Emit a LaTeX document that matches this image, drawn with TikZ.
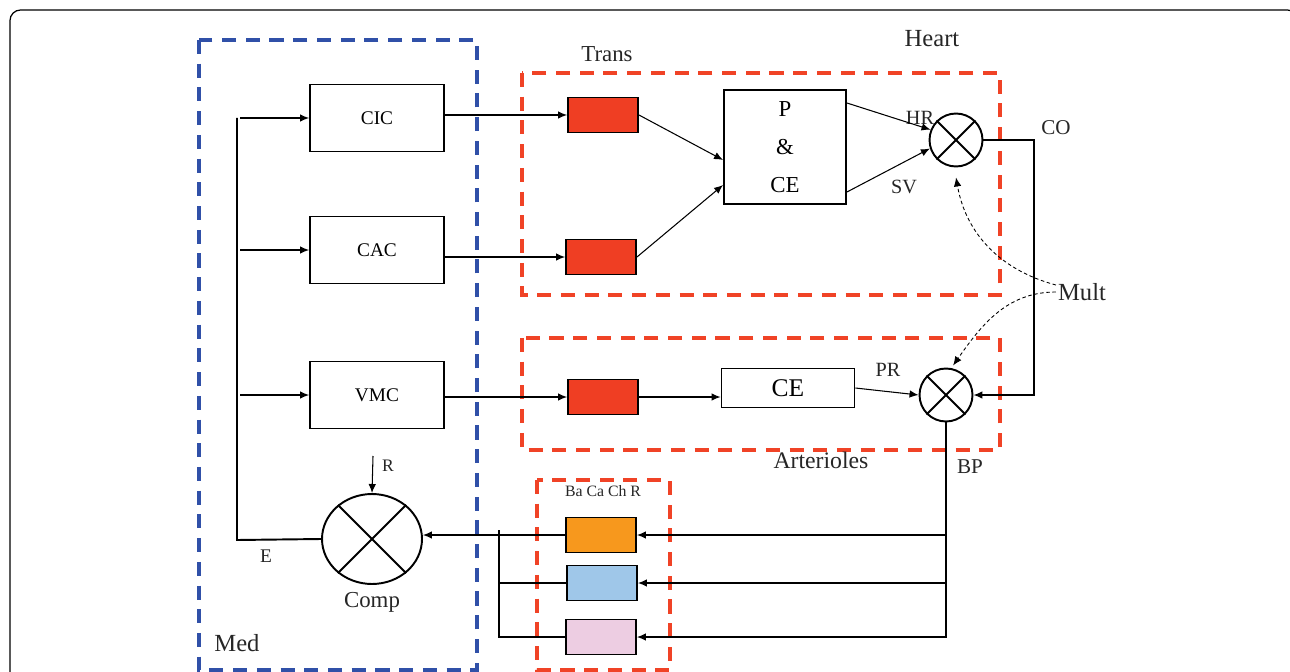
\documentclass[tikz,border=0pt]{standalone}
\usepackage{fontspec}
\setmainfont{Liberation Serif}
\usetikzlibrary{arrows.meta,positioning,shapes.geometric}
\definecolor{medblue}{HTML}{3050A8}
\definecolor{grpred}{HTML}{F04326}
\definecolor{transred}{HTML}{EF3E23}
\definecolor{barorange}{HTML}{F7981D}
\definecolor{chemblue}{HTML}{9FC7E9}
\definecolor{cardpink}{HTML}{EDCDE2}
\tikzset{
  ctrl/.style={draw, line width=1.1pt, minimum width=2.68cm, minimum height=1.34cm, font=\fontsize{11}{13}\selectfont},
  tbox/.style={draw, line width=1.1pt, minimum width=1.4cm, minimum height=0.7cm},
  plant/.style={draw, line width=1.1pt, align=center, minimum width=2.44cm, minimum height=2.28cm, font=\fontsize{13}{21.5}\selectfont},
  mult/.style={draw, line width=1.1pt, circle, minimum size=1.06cm, inner sep=0pt},
  arr/.style={-{Latex[length=1.8mm, width=1.5mm]}, line width=0.6pt},
  wire/.style={line width=1.1pt},
  dsh/.style={arr, dash pattern=on 2pt off 1.5pt, line width=0.5pt},
  meddash/.style={draw=medblue, line width=2.2pt, dash pattern=on 8pt off 5.5pt},
  grpdash/.style={draw=grpred, line width=2.2pt, dash pattern=on 8pt off 5.5pt},
  lbl/.style={font=\fontsize{12}{14}\selectfont, text=black!85, inner sep=1pt},
  big/.style={font=\fontsize{14}{16}\selectfont, text=black!85, inner sep=1pt}
}
\begin{document}
\begin{tikzpicture}[x=0.02cm, y=-0.02cm, node distance=0.3cm]
  \useasboundingbox (0,0) rectangle (1290,672);
  \clip (0,0) rectangle (1290,672);
  \draw[rounded corners=6pt, line width=0.7pt] (10,700) -- (10,10) -- (1298,10) -- (1298,700);
  \draw[meddash] (199,40) rectangle (477,670);
  \draw[grpdash] (522,73) rectangle (1000,295);
  \draw[grpdash] (522,338) rectangle (1000,450);
  \draw[grpdash] (537,480) rectangle (670,670);
  \node[ctrl] (cic) at (377,118) {CIC};
  \node[ctrl] (cac) at (377,250) {CAC};
  \node[ctrl] (vmc) at (377,395) {VMC};
  \node[tbox, fill=transred] (t1) at (603,115) {};
  \node[tbox, fill=transred] (t2) at (601,257) {};
  \node[tbox, fill=transred] (t3) at (603,397) {};
  \node[plant] (pce) at (785,147) {P\\\&\\CE};
  \node[mult] (hm) at (956,140) {};
  \node[mult] (am) at (946,395) {};
  \node[tbox, minimum width=2.66cm, minimum height=0.78cm, font=\fontsize{14.5}{16}\selectfont] (ce) at (788,388) {CE};
  \node[draw, line width=1.1pt, ellipse, minimum width=2cm, minimum height=1.8cm] (comp) at (372,539) {};
  \node[tbox, fill=barorange] (baro) at (601,535) {};
  \node[tbox, fill=chemblue] (chemo) at (602,583) {};
  \node[tbox, fill=cardpink] (card) at (601,637) {};
  \foreach \m in {hm,am,comp}
    \draw[wire] (\m.45) -- (\m.225) (\m.135) -- (\m.315);
  \node[lbl, font=\fontsize{13}{15}\selectfont] (trans) at (607,54) {Trans};
  \node[big] (heart) at (932,39) {Heart};
  \node[lbl, font=\fontsize{11.5}{14}\selectfont] (hr) at (920,118) {HR};
  \node[lbl, font=\fontsize{11.5}{14}\selectfont] (sv) at (904,187) {SV};
  \node[lbl] (co) at (1056,128) {CO};
  \node[big] (mult) at (1082,292) {Mult};
  \node[lbl, font=\fontsize{11.5}{14}\selectfont] (pr) at (888,370) {PR};
  \node[big, font=\fontsize{13.5}{16}\selectfont] (art) at (821,460) {Arterioles};
  \node[lbl] (bp) at (970,467) {BP};
  \node[lbl, font=\fontsize{9}{11}\selectfont] (rec) at (603,491) {Ba Ca Ch R};
  \node[lbl, font=\fontsize{10}{12}\selectfont] (r) at (388,466) {R};
  \node[lbl, font=\fontsize{11}{13}\selectfont] (e) at (266,556) {E};
  \node[lbl, font=\fontsize{13}{15}\selectfont, below=0.1cm of comp] (cmp) {Comp};
  \node[big] (med) at (237,643) {Med};
  \coordinate (trunk) at (237,118);
  \coordinate (err) at (237,540);
  \draw[wire] (trunk) -- (err) -- (comp.west);
  \foreach \b in {cic,cac,vmc}
    \draw[arr] ([xshift=0.06cm]trunk |- \b.west) -- (\b.west);
  \draw[arr] (cic.east |- t1.west) -- (t1.west);
  \draw[arr] (cac.east |- t2.west) -- (t2.west);
  \draw[arr] (vmc.east |- t3.west) -- (t3.west);
  \draw[arr] (t1.east) -- ([yshift=-0.26cm]pce.west);
  \draw[arr] (t2.east) -- ([yshift=-0.76cm]pce.west);
  \draw[arr] ([yshift=0.88cm]pce.east) -- (hm.158);
  \draw[arr] ([yshift=-0.9cm]pce.east) -- (hm.198);
  \coordinate (cobend) at (1034,395);
  \draw[wire, arr] (hm.east) -| (cobend) -- (am.east);
  \draw[arr] (t3.east) -- (t3.east -| ce.west);
  \draw[arr] (ce.east) -- (am.west);
  \draw[wire, arr] (am.south) |- (card.east);
  \draw[arr] (am.south |- baro.east) -- (baro.east);
  \draw[arr] (am.south |- chemo.east) -- (chemo.east);
  \draw[arr] (baro.west) -- (baro.west -| comp.east);
  \coordinate (coll) at (499,530);
  \draw[wire] (coll) |- (card.west);
  \draw[wire] (coll |- chemo.west) -- (chemo.west);
  \coordinate (ref) at (373,456);
  \draw[arr] (ref) -- (comp.north);
  \draw[dsh] (mult.165) to[out=165, in=-80] ([yshift=-0.2cm]hm.south);
  \draw[dsh] (mult.west) to[out=180, in=55] ([yshift=0.06cm]am.75);
\end{tikzpicture}
\end{document}
